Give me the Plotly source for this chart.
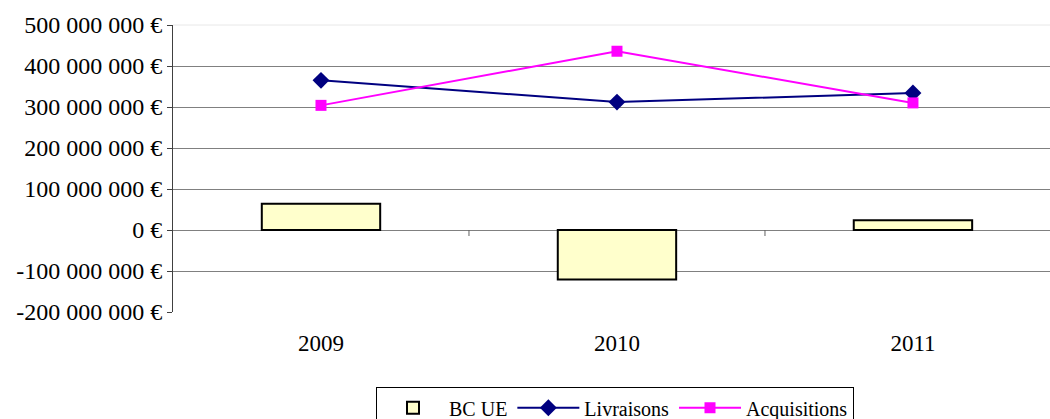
import plotly.graph_objects as go

years = ["2009", "2010", "2011"]
bc_ue = [64e6, -121e6, 24e6]
livraisons = [365e6, 312e6, 334e6]
acquisitions = [304e6, 436e6, 310e6]
y_ticks = [-200e6, -100e6, 0, 100e6, 200e6, 300e6, 400e6, 500e6]
y_labels = ["-200 000 000 €", "-100 000 000 €", "0 €", "100 000 000 €",
            "200 000 000 €", "300 000 000 €", "400 000 000 €", "500 000 000 €"]

xpos = list(range(len(years)))
serif = "Liberation Serif, Times New Roman, serif"
font = dict(family=serif, size=24, color="black")
xfont = dict(family=serif, size=23, color="black")
legend_font = dict(family=serif, size=20, color="black")

fig = go.Figure()
fig.add_trace(go.Bar(x=xpos, y=bc_ue, name="BC UE", width=0.4,
                     marker=dict(color="#FFFFCC", line=dict(color="black", width=2))))
fig.add_trace(go.Scatter(x=xpos, y=livraisons, name="Livraisons", mode="lines+markers",
                         line=dict(color="#000080", width=2),
                         marker=dict(symbol="diamond", size=13, color="#000080")))
fig.add_trace(go.Scatter(x=xpos, y=acquisitions, name="Acquisitions", mode="lines+markers",
                         line=dict(color="#FF00FF", width=2),
                         marker=dict(symbol="square", size=11, color="#FF00FF")))

# category boundary tick marks on the zero line
for b in [0.5, 1.5]:
    fig.add_shape(type="line", xref="x", yref="y", x0=b, x1=b,
                  ysizemode="pixel", yanchor=0, y0=0, y1=-6,
                  line=dict(color="#606060", width=1))
# faint top border of plot area
fig.add_shape(type="line", xref="paper", yref="paper", x0=0, x1=1, y0=1, y1=1,
              line=dict(color="#E8E8E8", width=1))

fig.update_layout(
    width=1050, height=419,
    margin=dict(l=173, r=0, t=25, b=107, autoexpand=False),
    paper_bgcolor="white", plot_bgcolor="white",
    font=font,
    showlegend=True,
    legend=dict(orientation="h", x=0.504, xanchor="center", y=-0.262, yanchor="top",
                bordercolor="black", borderwidth=1, font=legend_font,
                itemwidth=62, tracegroupgap=0),
    xaxis=dict(range=[-0.5, 2.463], tickvals=xpos, ticktext=years, showgrid=False,
               showline=False, zeroline=False, ticks="", ticklabelstandoff=15,
               tickfont=xfont),
    yaxis=dict(range=[-200e6, 500e6], tickvals=y_ticks, ticktext=y_labels,
               showgrid=False, zeroline=False, showline=True, linecolor="#404040",
               linewidth=1, ticks="outside", ticklen=5, tickcolor="#404040",
               tickfont=font, automargin=False),
    yaxis2=dict(range=[-200e6, 500e6], overlaying="y", tickvals=y_ticks[1:-1],
                showticklabels=False, showgrid=True, gridcolor="#808080", gridwidth=1,
                zeroline=False, showline=False, ticks=""),
    barmode="overlay",
)
fig.add_trace(go.Scatter(x=[0], y=[0], yaxis="y2", showlegend=False, hoverinfo="skip",
                         mode="markers", marker=dict(opacity=0)))
fig.update_layout(yaxis2_layer="below traces")
fig.write_html("out.html", config={"displayModeBar": False},
               post_script="document.body.style.margin='0';")
